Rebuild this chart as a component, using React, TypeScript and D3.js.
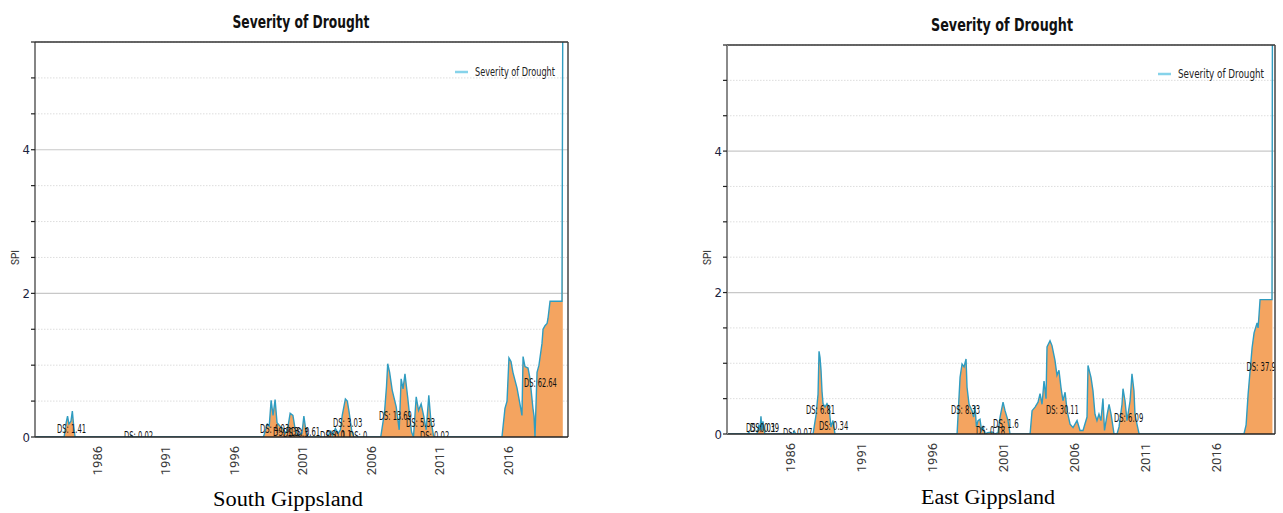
import React from 'react';
import * as d3 from 'd3';

// ---------- data ----------
const chartTitle = 'Severity of Drought';
const legendLabel = 'Severity of Drought';
const yAxisLabel = 'SPI';
const tickYears = [1986, 1991, 1996, 2001, 2006, 2011, 2016];
const spiTicks = [0, 0.5, 1, 1.5, 2, 2.5, 3, 3.5, 4, 4.5, 5, 5.5];
const spiLabelTicks = [0, 2, 4];

// South Gippsland: [year, severity]
const southData: [number, number][] = [
  [1981.55, 0], [1983.6, 0], [1983.75, 0.2], [1983.85, 0.29], [1983.95, 0.18], [1984.1, 0.22], [1984.2, 0.36], [1984.3, 0.15], [1984.4, 0],
  [1988.4, 0], [1988.5, 0.02], [1988.6, 0],
  [1998.15, 0], [1998.43, 0.18], [1998.57, 0.15], [1998.71, 0.51], [1998.85, 0.3], [1999.0, 0.52], [1999.14, 0.2], [1999.36, 0.15],
  [1999.55, 0.12], [1999.75, 0.05], [1999.9, 0.1], [2000.1, 0.33], [2000.3, 0.3], [2000.47, 0.1], [2000.67, 0.02], [2000.96, 0.05],
  [2001.1, 0.29], [2001.24, 0.1], [2001.38, 0],
  [2002.8, 0], [2003.07, 0.08], [2003.2, 0.02], [2003.4, 0.12], [2003.6, 0.05], [2003.77, 0.1], [2003.9, 0.3], [2004.13, 0.53],
  [2004.27, 0.5], [2004.4, 0.35], [2004.6, 0.08], [2004.75, 0],
  [2006.71, 0], [2006.99, 0.35], [2007.13, 0.7], [2007.22, 1.02], [2007.36, 0.9], [2007.55, 0.65], [2007.84, 0.42], [2008.06, 0.1],
  [2008.2, 0.81], [2008.34, 0.67], [2008.48, 0.88], [2008.68, 0.55], [2008.82, 0.3], [2008.96, 0.07], [2009.1, 0], [2009.3, 0.56],
  [2009.47, 0.37], [2009.66, 0.46], [2009.86, 0.28], [2010.03, 0.1], [2010.22, 0.58], [2010.36, 0.25], [2010.58, 0],
  [2015.56, 0], [2015.78, 0.4], [2015.93, 0.5], [2016.07, 1.1], [2016.22, 1.05], [2016.36, 0.9], [2016.66, 0.68], [2016.88, 0.45],
  [2017.02, 0.3], [2017.1, 1.12], [2017.24, 0.98], [2017.46, 0.96], [2017.6, 0.82], [2017.82, 0.4], [2017.9, 0.29], [2017.97, 0],
  [2018.12, 0.9], [2018.26, 1.0], [2018.48, 1.3], [2018.56, 1.5], [2018.7, 1.55], [2018.85, 1.58], [2018.92, 1.65], [2019.07, 1.89],
  [2019.94, 1.89], [2020.0, 5.9],
];

// East Gippsland: [year, severity]
const eastData: [number, number][] = [
  [1981.65, 0], [1983.0, 0], [1983.1, 0.02], [1983.2, 0],
  [1983.68, 0], [1983.82, 0.13], [1983.89, 0.05], [1983.96, 0.25], [1984.03, 0.05], [1984.1, 0.18], [1984.24, 0],
  [1986.2, 0], [1986.3, 0.04], [1986.4, 0],
  [1987.62, 0], [1987.83, 0.27], [1987.97, 0.56], [1988.04, 1.17], [1988.11, 1.08], [1988.18, 0.9], [1988.25, 0.6], [1988.32, 0.43],
  [1988.46, 0.38], [1988.6, 0.43], [1988.74, 0.38], [1988.88, 0.1], [1989.02, 0.19], [1989.16, 0],
  [1997.74, 0], [1997.95, 0.8], [1998.09, 0.99], [1998.23, 0.95], [1998.37, 1.06], [1998.44, 0.66], [1998.58, 0.42], [1998.79, 0.33],
  [1998.9, 0.24], [1999.0, 0.4], [1999.1, 0.1], [1999.21, 0.19], [1999.35, 0.21], [1999.46, 0.05], [1999.56, 0.1], [1999.7, 0],
  [1999.9, 0.02], [2000.2, 0.03], [2000.41, 0], [2000.62, 0.02], [2000.76, 0.24], [2000.97, 0.45], [2001.11, 0.33], [2001.32, 0.19],
  [2001.46, 0],
  [2002.87, 0], [2003.01, 0.33], [2003.22, 0.38], [2003.43, 0.45], [2003.57, 0.57], [2003.71, 0.42], [2003.85, 0.75], [2003.99, 0.5],
  [2004.06, 1.23], [2004.27, 1.32], [2004.41, 1.25], [2004.62, 1.04], [2004.76, 0.83], [2004.9, 0.9], [2005.04, 0.66], [2005.18, 0.47],
  [2005.33, 0.59], [2005.47, 0.33], [2005.68, 0.14], [2005.89, 0.09], [2006.17, 0.19], [2006.38, 0.05], [2006.59, 0.05], [2006.87, 0.24],
  [2006.94, 0.97], [2007.15, 0.8], [2007.29, 0.61], [2007.43, 0.28], [2007.57, 0.19], [2007.71, 0.28], [2007.85, 0.19], [2007.99, 0.5],
  [2008.1, 0.05], [2008.27, 0.26], [2008.42, 0.42], [2008.56, 0.28], [2008.77, 0],
  [2008.98, 0], [2009.12, 0.1], [2009.33, 0.42], [2009.4, 0.64], [2009.54, 0.47], [2009.68, 0.19], [2009.9, 0.47], [2010.03, 0.85],
  [2010.17, 0.61], [2010.24, 0.28], [2010.38, 0.14], [2010.53, 0],
  [2017.9, 0], [2018.05, 0.13], [2018.19, 0.56], [2018.33, 0.89], [2018.47, 1.22], [2018.61, 1.43], [2018.82, 1.57], [2018.89, 1.5],
  [2018.96, 1.69], [2019.03, 1.9], [2019.87, 1.9], [2019.9, 5.9],
];

// drought-severity annotations: [year, spi, text]
const southLabels: [number, number, string][] = [
  [1983.08, 0.056, 'DS: 1.41'], [1987.97, -0.045, 'DS: 0.02'], [1997.9, 0.056, 'DS: 4.03'], [1998.85, 0.014, 'DS: 1.3'],
  [1999.58, 0, 'DS: 0.3'], [2000.16, 0.014, 'DS: 0.61'], [2002.28, -0.035, 'DS: 0.1'], [2002.72, -0.03, 'DS: 0.1'],
  [2003.23, 0.14, 'DS: 3.03'], [2004.39, -0.035, 'DS: 0'], [2006.58, 0.24, 'DS: 13.69'], [2008.55, 0.14, 'DS: 5.33'],
  [2009.58, -0.04, 'DS: 0.02'], [2017.17, 0.7, 'DS: 62.64'],
];
const eastLabels: [number, number, string][] = [
  [1982.91, 0.03, 'DS: 0.01'], [1983.19, 0.03, 'DS: 0.39'], [1985.51, -0.04, 'DS: 0.07'], [1987.12, 0.28, 'DS: 6.81'],
  [1988.04, 0.057, 'DS: 0.34'], [1997.31, 0.28, 'DS: 8.33'], [1999.07, -0.01, 'DS: 0.18'], [2000.27, 0.085, 'DS: 1.6'],
  [2003.99, 0.28, 'DS: 30.11'], [2008.77, 0.17, 'DS: 6.09'], [2018.08, 0.89, 'DS: 37.9'],
];

const regionNames = ['South Gippsland', 'East Gippsland'];

// ---------- drawing ----------
type Layout = {
  id: string; l: number; t: number; r: number; b: number; x0: number; x1: number;
  titleX: number; titleY: number; titleW: number;
  legX: number; legY: number; legW: number;
  subX: number; subY: number; subW: number; spiX: number; axisColor: string; axisW: number;
};

const narrow = '"DejaVu Sans Condensed", "Liberation Sans Narrow", "Roboto", sans-serif';

function Chart({ data, labels, name, L }: { data: [number, number][]; labels: [number, number, string][]; name: string; L: Layout }) {
  const x = d3.scaleLinear().domain([L.x0, L.x1]).range([L.l, L.r]);
  const y = d3.scaleLinear().domain([0, 5.5]).range([L.b, L.t]);
  const area = d3.area<[number, number]>().x(d => x(d[0])).y0(y(0)).y1(d => y(d[1]));
  const line = d3.line<[number, number]>().x(d => x(d[0])).y(d => y(d[1]));
  const clipId = 'clip-' + L.id;
  return (
    <g>
      <defs>
        <clipPath id={clipId}><rect x={L.l} y={L.t} width={L.r - L.l} height={L.b - L.t} /></clipPath>
      </defs>
      <text x={L.titleX} y={L.titleY} textAnchor="middle" fontFamily={narrow} fontWeight="bold" fontSize={18}
        textLength={L.titleW} lengthAdjust="spacingAndGlyphs" fill="#111">{chartTitle}</text>
      {spiTicks.filter(v => v > 0).map(v => {
        const major = spiLabelTicks.includes(v);
        return <line key={v} x1={L.l} x2={L.r} y1={y(v)} y2={y(v)} stroke={major ? '#c8c8c8' : '#d6d6d6'}
          strokeWidth={major ? 1.2 : 0.8} strokeDasharray={major ? undefined : '1.5,1.5'} />;
      })}
      <g clipPath={`url(#${clipId})`}>
        <path d={area(data) || ''} fill="#f4a460" />
        <path d={line(data) || ''} fill="none" stroke="#2f9cc0" strokeWidth={1.4} />
        {labels.map((d, i) => (
          <text key={i} x={x(d[0])} y={y(d[1])} fontFamily={narrow} fontSize={12} fill="#111"
            textLength={d[2].length * 3.65} lengthAdjust="spacingAndGlyphs">{d[2]}</text>
        ))}
      </g>
      {/* frame */}
      <line x1={L.l} x2={L.r} y1={L.t} y2={L.t} stroke="#333" strokeWidth={1.5} />
      <line x1={L.r} x2={L.r} y1={L.t} y2={L.b} stroke="#444" strokeWidth={1.5} />
      <line x1={L.l} x2={L.r} y1={L.b} y2={L.b} stroke="#222" strokeWidth={1.6} />
      <line x1={L.l} x2={L.l} y1={L.t} y2={L.b} stroke={L.axisColor} strokeWidth={L.axisW} />
      {spiTicks.map(v => (
        <line key={v} x1={L.l - 4} x2={L.l} y1={y(v)} y2={y(v)} stroke="#222" strokeWidth={1.2} />
      ))}
      {spiLabelTicks.map(v => (
        <text key={v} x={L.l - 5} y={y(v)} dy="0.35em" textAnchor="end" fontFamily={narrow} fontSize={13} fill="#1c2340">{v}</text>
      ))}
      <text transform={`translate(${L.spiX},${(L.t + L.b) / 2 + 18}) rotate(-90)`} textAnchor="middle"
        fontFamily="Roboto, sans-serif" fontSize={10} fill="#333">{yAxisLabel}</text>
      {tickYears.map(t => (
        <text key={t} transform={`translate(${x(t)},${L.b + 9}) rotate(-90)`} dy="0.35em" textAnchor="end"
          fontFamily="Roboto, sans-serif" fontSize={13} fill="#3a3a3a">{t}</text>
      ))}
      {/* legend */}
      <line x1={L.legX} x2={L.legX + 13} y1={L.legY} y2={L.legY} stroke="#86d3ea" strokeWidth={2.5} />
      <text x={L.legX + 20} y={L.legY + 4} fontFamily={narrow} fontSize={12} textLength={L.legW}
        lengthAdjust="spacingAndGlyphs" fill="#222">{legendLabel}</text>
      <text x={L.subX} y={L.subY} textAnchor="middle" fontFamily='"Liberation Serif", "DejaVu Serif", serif'
        fontSize={20} textLength={L.subW} lengthAdjust="spacingAndGlyphs" fill="#000">{name}</text>
    </g>
  );
}

const leftLayout: Layout = {
  id: 'south', l: 35, t: 42, r: 568, b: 437, x0: 1981.474, x1: 2020.38,
  titleX: 301, titleY: 28, titleW: 137, legX: 455, legY: 72, legW: 80,
  subX: 288, subY: 506, subW: 150, spiX: 19, axisColor: '#333', axisW: 1.2,
};
const rightLayout: Layout = {
  id: 'east', l: 727, t: 45, r: 1275, b: 434, x0: 1981.573, x1: 2020.08,
  titleX: 1002, titleY: 31, titleW: 142, legX: 1158, legY: 74, legW: 86,
  subX: 988, subY: 504, subW: 134, spiX: 711, axisColor: '#8a8a8a', axisW: 2,
};

export default function App() {
  return (
    <svg width={1283} height={513} style={{ position: 'absolute', left: 0, top: 0, background: '#fff' }}>
      <rect width={1283} height={513} fill="#fff" />
      <Chart data={southData} labels={southLabels} name={regionNames[0]} L={leftLayout} />
      <Chart data={eastData} labels={eastLabels} name={regionNames[1]} L={rightLayout} />
    </svg>
  );
}
